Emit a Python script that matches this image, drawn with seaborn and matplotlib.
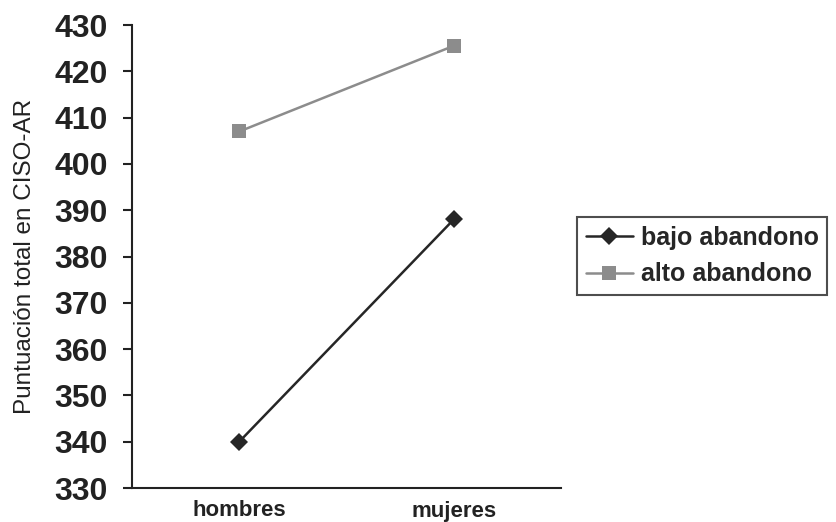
import pandas as pd
import numpy as np
import seaborn as sns
import matplotlib.pyplot as plt

sexo = ["hombres", "mujeres"]
bajo_abandono = [340, 388]
alto_abandono = [407, 425.5]
grupos = ["bajo abandono", "alto abandono"]
yticks = [330, 340, 350, 360, 370, 380, 390, 400, 410, 420, 430]

df = pd.DataFrame({
    "sexo": sexo * 2,
    "puntuacion": bajo_abandono + alto_abandono,
    "grupo": [grupos[0]] * 2 + [grupos[1]] * 2,
})

sns.set_style("white")
plt.rcParams["font.family"] = ["Liberation Sans", "DejaVu Sans"]

fig = plt.figure(figsize=(8.37, 5.22), dpi=100)
ax = fig.add_axes([132 / 837, 1 - 488 / 522, (561 - 132) / 837, (488 - 25) / 522])

sns.lineplot(data=df, x="sexo", y="puntuacion", hue="grupo", style="grupo",
             palette={"bajo abandono": "#262626", "alto abandono": "#8c8c8c"},
             markers={"bajo abandono": "D", "alto abandono": "s"},
             dashes=False, markersize=9.5, linewidth=1.8, ax=ax, legend=True)
for line in ax.lines:
    line.set_markeredgewidth(0)

ax.set_xlim(-0.5, 1.5)
ax.set_ylim(330, 430)
ax.set_yticks(yticks)
ax.set_yticklabels([str(v) for v in yticks], fontsize=23, fontweight="bold", color="#222222")
ax.set_xticks([0, 1])
ax.set_xticklabels(sexo, fontsize=16, fontweight="bold", color="#222222")
ax.set_xticks([0.5, 1.5], minor=True)
ax.tick_params(axis="x", which="major", length=0, pad=9)
ax.tick_params(axis="x", which="minor", direction="in", length=6, width=1.5, color="#222222")
ax.tick_params(axis="y", direction="out", length=6.5, width=1.5, color="#222222", left=True, pad=11)
ax.set_xlabel("")
ax.set_ylabel("Puntuación total en CISO-AR", fontsize=17.5, color="#222222", labelpad=13)

sns.despine(ax=ax)
for s in ["left", "bottom"]:
    ax.spines[s].set_linewidth(1.5)
    ax.spines[s].set_color("#222222")

handles, labels = ax.get_legend_handles_labels()
leg = ax.legend(handles, labels, loc="upper left", bbox_to_anchor=(577 / 837, 1 - 217 / 522),
                bbox_transform=fig.transFigure, borderaxespad=0, fancybox=False,
                prop={"size": 18, "weight": "bold"}, handlelength=1.9, handletextpad=0.3,
                borderpad=0.35, labelspacing=0.5, frameon=True)
leg.get_frame().set_edgecolor("#222222")
leg.get_frame().set_linewidth(1.5)

fig.savefig("out.png", dpi=100)
